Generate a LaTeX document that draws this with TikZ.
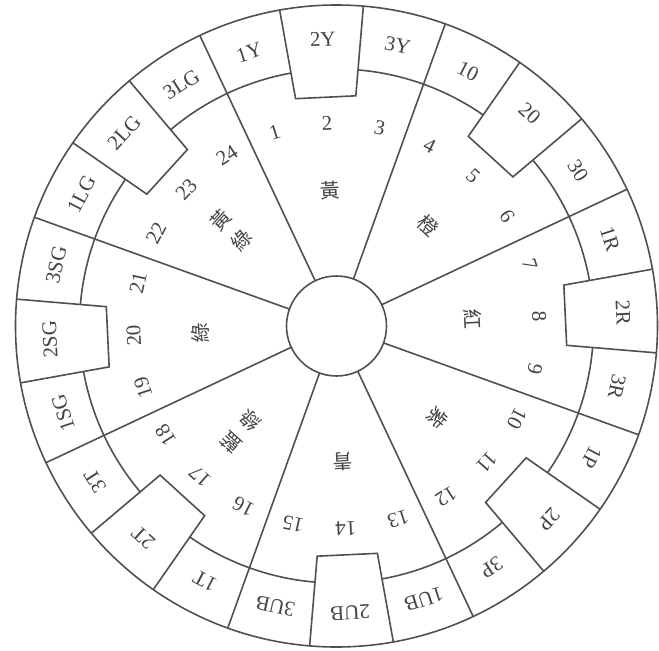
\documentclass[tikz,border=0pt]{standalone}
\usepackage{fontspec}
\setmainfont{Liberation Serif}
\newfontfamily\cjk{Noto Sans CJK TC}
\definecolor{ink}{HTML}{505050}
\definecolor{txt}{HTML}{444444}
\begin{document}
\begin{tikzpicture}[x=0.5pt,y=0.5pt,
  ringline/.style={draw=ink, line width=0.8pt},
  lbl/.style={font=\fontsize{10.5}{12}\selectfont, text=txt, inner sep=0pt},
  han/.style={font=\cjk\fontsize{10}{12}\selectfont, text=txt, inner sep=0pt}]
\useasboundingbox (-336.5,-324) rectangle (322.5,326);
\def\Ro{321}\def\Rm{257}\def\Rb{231}\def\Ri{50}
% circles
\draw[ringline] (0,0) circle (\Ri);
\draw[ringline] (0,0) circle (\Ro);
% sectors, cells and boxes
\foreach \k in {0,...,7} {
  \pgfmathsetmacro\c{92.7-45*\k}
  \pgfmathsetmacro\a{\c+22.5}
  \pgfmathsetmacro\b{\c+7.5}
  \pgfmathsetmacro\d{\c-7.5}
  \pgfmathsetmacro\e{\c-22.5}
  \draw[ringline] (\a:\Ri) -- (\a:\Ro);
  \draw[ringline] (\b:\Rm) arc[start angle=\b, end angle=\a, radius=\Rm];
  \draw[ringline] (\e:\Rm) arc[start angle=\e, end angle=\d, radius=\Rm];
  \draw[ringline] (\b:\Ro) -- (\b:\Rb) -- (\d:\Rb) -- (\d:\Ro);
}
% outer labels and inner numbers
\foreach \k/\s in {0/Y,1/0,2/R,3/P,4/UB,5/T,6/SG,7/LG} {
  \foreach \j in {1,2,3} {
    \pgfmathsetmacro\t{92.7-45*\k-15*(\j-2)}
    \pgfmathsetmacro\r{\t-90}
    \pgfmathtruncatemacro\n{3*\k+\j}
    \node[lbl, rotate=\r] (o\k\j) at (\t:287) {\j\s};
    \node[lbl, rotate=\r] (n\n) at (\t:203) {\n};
  }
}
% hue names
\foreach \k/\h in {0/黃,1/橙,2/紅,3/紫,4/青,6/綠} {
  \pgfmathsetmacro\t{92.7-45*\k}
  \pgfmathsetmacro\r{\t-90}
  \node[han, rotate=\r] (h\k) at (\t:136) {\h};
}
\foreach \k/\p/\q in {5/藍/綠,7/黃/綠} {
  \pgfmathsetmacro\t{92.7-45*\k}
  \pgfmathsetmacro\r{\t-90}
  \node[han, rotate=\r] (h\k a) at (\t:157) {\p};
  \node[han, rotate=\r] (h\k b) at (\t:128) {\q};
}
\end{tikzpicture}
\end{document}
